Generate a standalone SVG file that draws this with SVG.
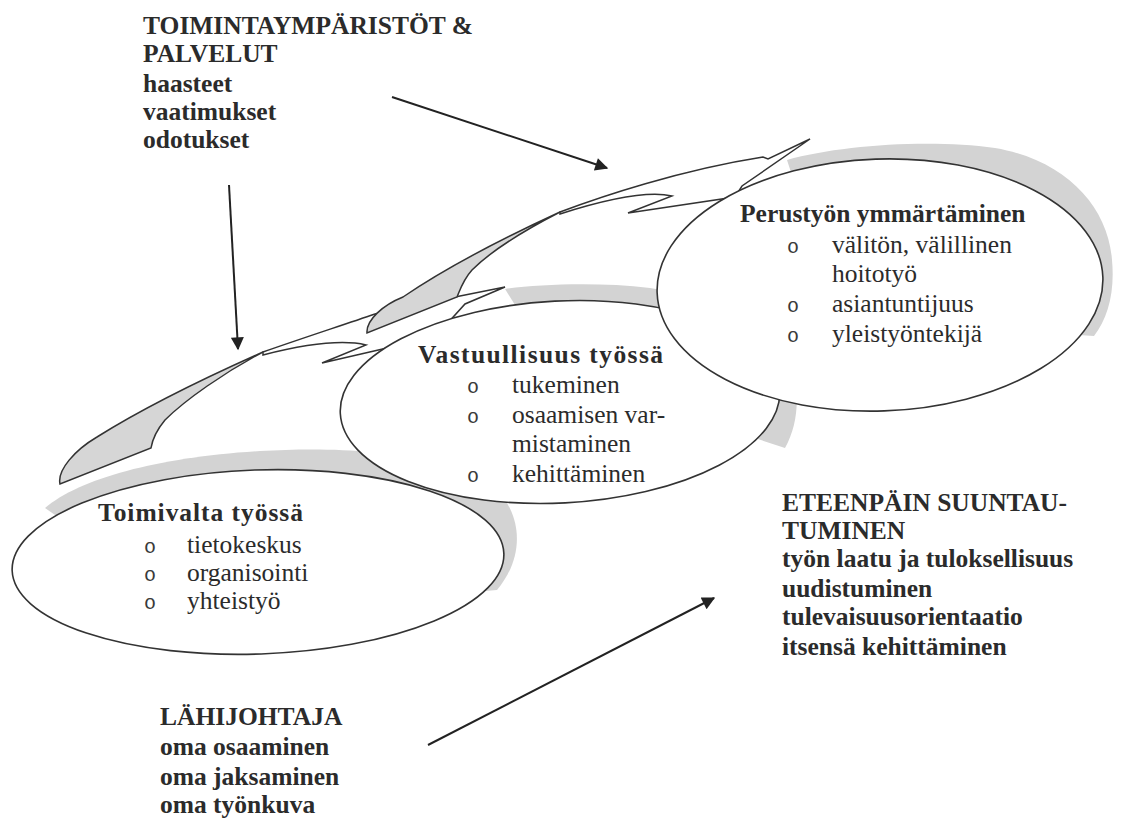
<svg xmlns="http://www.w3.org/2000/svg" width="1127" height="820" viewBox="0 0 1127 820">
<defs>
<style>
.b{font-family:"Liberation Serif","Times New Roman",serif;font-weight:bold;font-size:25.5px;fill:#2b2b2b}
.r{font-family:"Liberation Serif","Times New Roman",serif;font-size:25.5px;fill:#2b2b2b}
.bu{font-family:"Liberation Mono","Courier New",monospace;font-size:20px;fill:#3a3a3a}
.el{fill:#fff;stroke:#333;stroke-width:1.6}
.sh{fill:#d3d3d3}
.rib{fill:#fff;stroke:#333;stroke-width:1.5;stroke-linejoin:miter}
.back{fill:#d6d6d6;stroke:#333;stroke-width:1.5}
.arr{fill:none;stroke:#222;stroke-width:2;marker-end:url(#ah)}
</style>
<marker id="ah" viewBox="0 0 10 10" refX="9" refY="5" markerWidth="16" markerHeight="13" markerUnits="userSpaceOnUse" orient="auto">
<path d="M0,0 L10,5 L0,10 Z" fill="#222"/>
</marker>
</defs>
<rect width="1127" height="820" fill="#fff"/>

<g id="connectors">
<path class="rib" d="M263,352 C300,339 340,326 375,314 L460,296 L505,287 L465,304 L445,326 L400,345 L322,363 L366,345 C345,340 310,343 263,355 Z"/>
<path class="back" d="M60,484 C57,470 75,450 97,437 C140,410 200,380 263,352 C225,372 185,400 165,420 C155,432 152,442 151,448 Z"/>
<path class="rib" d="M560,212 C600,197 680,170 763,157 L768,159 L810,139 L742,186 L735,197 L628,213 L672,196 C650,191 610,198 560,214 Z"/>
<path class="back" d="M367,333 C366,320 383,305 403,297 C450,265 510,235 560,212 C525,230 490,252 472,270 C463,280 460,290 457,297 Z"/>
<line class="arr" x1="392" y1="97" x2="607" y2="168"/>
<line class="arr" x1="229" y1="185" x2="238" y2="349"/>
<line class="arr" x1="428" y1="745" x2="714" y2="598"/>
</g>

<g id="node-toimivalta">
<path class="sh" d="M45,508 C80,478 160,457 260,451 C360,445 470,455 505,500 C522,525 522,560 497,590 L380,600 L120,560 Z"/>
<ellipse class="el" cx="258" cy="562" rx="246" ry="92" transform="rotate(-2 258 562)"/>
<text class="b" x="98" y="521" textLength="205" lengthAdjust="spacing">Toimivalta työssä</text>
<text class="bu" x="144" y="553">o</text>
<text class="r" x="187" y="553">tietokeskus</text>
<text class="bu" x="144" y="581">o</text>
<text class="r" x="187" y="581">organisointi</text>
<text class="bu" x="144" y="609">o</text>
<text class="r" x="187" y="609">yhteistyö</text>
</g>

<g id="node-vastuullisuus">
<path class="sh" d="M505,289 C540,284 600,282 650,288 C720,300 775,330 792,370 C800,395 798,425 785,448 L700,420 L520,320 L515,305 Z"/>
<ellipse class="el" cx="560" cy="402" rx="220" ry="101" transform="rotate(-3 560 402)"/>
<text class="b" x="418" y="363" textLength="245" lengthAdjust="spacing">Vastuullisuus työssä</text>
<text class="bu" x="467" y="393">o</text>
<text class="r" x="512" y="393">tukeminen</text>
<text class="bu" x="467" y="423">o</text>
<text class="r" x="512" y="423">osaamisen var-</text>
<text class="r" x="512" y="452">mistaminen</text>
<text class="bu" x="467" y="482">o</text>
<text class="r" x="512" y="482">kehittäminen</text>
</g>

<g id="node-perustyo">
<path class="sh" d="M787,160 C840,145 930,139 995,148 C1065,160 1108,206 1112,260 C1115,292 1108,318 1094,336 L1000,330 L800,200 Z"/>
<ellipse class="el" cx="880" cy="285" rx="223" ry="126" transform="rotate(-2 880 285)"/>
<text class="b" x="740" y="222">Perustyön ymmärtäminen</text>
<text class="bu" x="787" y="253">o</text>
<text class="r" x="832" y="253">välitön, välillinen</text>
<text class="r" x="832" y="282">hoitotyö</text>
<text class="bu" x="787" y="312">o</text>
<text class="r" x="832" y="312">asiantuntijuus</text>
<text class="bu" x="787" y="342">o</text>
<text class="r" x="832" y="342">yleistyöntekijä</text>
</g>

<g id="label-toimintaymparistot">
<text class="b" x="143" y="34">TOIMINTAYMPÄRISTÖT &amp;</text>
<text class="b" x="143" y="62">PALVELUT</text>
<text class="b" x="143" y="92">haasteet</text>
<text class="b" x="143" y="120">vaatimukset</text>
<text class="b" x="143" y="148">odotukset</text>
</g>

<g id="label-eteenpain">
<text class="b" x="782" y="511">ETEENPÄIN SUUNTAU-</text>
<text class="b" x="782" y="539">TUMINEN</text>
<text class="b" x="782" y="567">työn laatu ja tuloksellisuus</text>
<text class="b" x="782" y="597">uudistuminen</text>
<text class="b" x="782" y="625">tulevaisuusorientaatio</text>
<text class="b" x="782" y="655">itsensä kehittäminen</text>
</g>

<g id="label-lahijohtaja">
<text class="b" x="160" y="725">LÄHIJOHTAJA</text>
<text class="b" x="160" y="755">oma osaaminen</text>
<text class="b" x="160" y="785">oma jaksaminen</text>
<text class="b" x="160" y="813">oma työnkuva</text>
</g>
</svg>
